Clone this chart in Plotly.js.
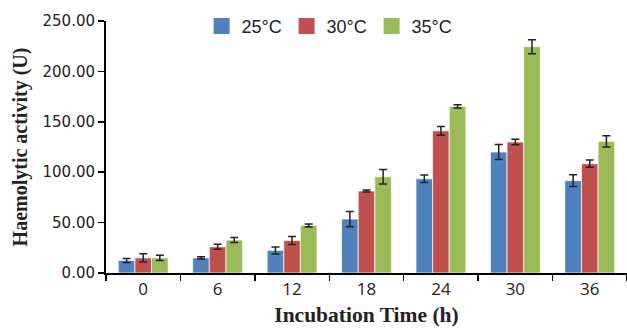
<!DOCTYPE html>
<html>
<head>
<meta charset="utf-8">
<script src="https://cdn.plot.ly/plotly-3.0.1.min.js"></script>
<style>html,body{margin:0;padding:0;background:#fff;}#chart{width:627px;height:333px;}</style>
</head>
<body>
<div id="chart"></div>
<script>
const categories = ["0", "6", "12", "18", "24", "30", "36"];
const seriesNames = ["25°C", "30°C", "35°C"];
const values25 = [12.5, 15.0, 22.4, 53.5, 93.5, 120.0, 91.6];
const errors25 = [2.0, 1.0, 3.5, 7.5, 3.6, 7.5, 5.8];
const values30 = [15.0, 26.0, 32.3, 81.3, 141.0, 130.0, 108.4];
const errors30 = [4.0, 2.5, 4.0, 1.0, 4.3, 2.8, 3.6];
const values35 = [15.0, 32.7, 47.2, 95.5, 165.3, 224.5, 130.6];
const errors35 = [2.5, 2.5, 1.5, 7.3, 1.5, 7.0, 5.6];
const colors = ["#4F81BD", "#C0504D", "#9BBB59"];

const vals = [values25, values30, values35];
const errs = [errors25, errors30, errors35];
const traces = vals.map((v, i) => ({
  type: "bar",
  name: seriesNames[i],
  x: categories,
  y: v,
  showlegend: false,
  marker: {color: colors[i], line: {color: "rgba(255,255,255,0.7)", width: 1}},
  error_y: {type: "data", array: errs[i], visible: true, color: "#222", thickness: 1.5, width: 4}
}));
// legend-only entries with larger square swatches
seriesNames.forEach((n, i) => traces.push({
  type: "scatter", mode: "markers", name: n,
  x: [null], y: [null],
  marker: {symbol: "square", size: 16, color: colors[i], line: {width: 0}},
  hoverinfo: "skip"
}));

const layout = {
  width: 627, height: 333,
  margin: {l: 106, r: 0, t: 21, b: 60},
  paper_bgcolor: "#fff", plot_bgcolor: "#fff",
  barmode: "group",
  bargap: 0.33,
  bargroupgap: 0,
  showlegend: true,
  legend: {orientation: "h", x: 0.1835, y: 0.979, xanchor: "left", yanchor: "middle",
           font: {family: "Liberation Sans, Arial, sans-serif", size: 18, color: "#222"},
           itemwidth: 30, entrywidth: 40, bgcolor: "rgba(0,0,0,0)"},
  xaxis: {
    type: "category",
    tickson: "boundaries",
    ticks: "outside", ticklen: 6, tickwidth: 1.5, tickcolor: "#000",
    showline: true, linecolor: "#000", linewidth: 2,
    showgrid: false, zeroline: false,
    tickfont: {family: "Open Sans, sans-serif", size: 17, color: "#222"},
    title: {text: "Incubation Time (h)", standoff: 8,
            font: {family: "Liberation Serif, Times New Roman, serif", size: 21.5, color: "#222", weight: "bold"}}
  },
  yaxis: {
    range: [0, 250],
    tickvals: [0, 50, 100, 150, 200, 250],
    tickformat: ".2f",
    ticks: "outside", ticklen: 6, tickwidth: 1.5, tickcolor: "#000",
    showline: true, linecolor: "#000", linewidth: 2,
    showgrid: false, zeroline: false,
    tickfont: {family: "DejaVu Sans, sans-serif", size: 15, color: "#222"},
    title: {text: "Haemolytic activity (U)", standoff: 10,
            font: {family: "Liberation Serif, Times New Roman, serif", size: 20, color: "#222", weight: "bold"}}
  }
};

Plotly.newPlot("chart", traces, layout, {displayModeBar: false, staticPlot: true});
</script>
</body>
</html>
